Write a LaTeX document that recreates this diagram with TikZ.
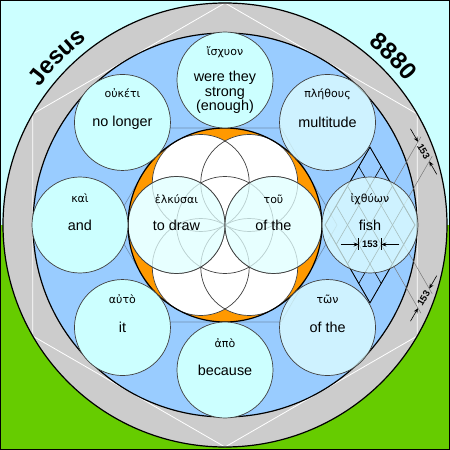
\documentclass[tikz,border=0pt]{standalone}
\usepackage{fontspec}
\setmainfont{Liberation Sans}
\newfontfamily\greekfont{DejaVu Sans}
\usetikzlibrary{calc,arrows.meta,decorations.text}

\definecolor{skycyan}{HTML}{CCFFFF}
\definecolor{palecyan}{HTML}{E0FFFF}
\definecolor{grass}{HTML}{66CC00}
\definecolor{ringgray}{HTML}{CCCCCC}
\definecolor{poolblue}{HTML}{99CCFF}
\definecolor{lune}{HTML}{FF9900}
\definecolor{rim}{HTML}{404040}
\definecolor{slate}{HTML}{7090B0}

\tikzset{
  wordcircle/.style={circle, minimum size=96pt, inner sep=0pt, draw=rim, line width=0.7pt, fill=skycyan},
  clearword/.style={},
  ditheredword/.style={fill=palecyan, fill opacity=0.75, text opacity=1},
  greekword/.style={font=\greekfont\fontsize{11}{12}\selectfont, inner sep=0pt},
  englishword/.style={font=\fontsize{14.4}{14.5}\selectfont, align=center, inner sep=0pt},
  dimlabel/.style={font=\bfseries\fontsize{9.5}{10}\selectfont, inner sep=0.5pt},
  dimarrow/.style={-{Stealth[length=5pt,width=4pt]}, line width=0.6pt},
  extline/.style={draw=rim!70, line width=0.5pt},
  petal/.style={draw=rim, line width=0.7pt},
}

\begin{document}
\begin{tikzpicture}[x=1pt,y=1pt]
        \newcommand{\ringout}{222pt}
        \newcommand{\ringin}{192pt}
        \newcommand{\seedrad}{48.5pt}

        \useasboundingbox (-225,-225) rectangle (225,225);
        \fill [skycyan] (-225,0) rectangle (225,225);
        \fill [grass] (-225,-225) rectangle (225,0);

        \fill [ringgray] (0,0) circle [radius=\ringout];
        \draw [white, line width=0.8pt] (90:222) -- (150:222) -- (210:222) -- (270:222) -- (330:222) -- (30:222) -- cycle;
        \fill [poolblue] (0,0) circle [radius=\ringin];
        \draw [line width=1.2pt] (0,0) circle [radius=\ringout] (0,0) circle [radius=\ringin];

        \draw [slate, line width=0.6pt] (0:112) -- (60:112) -- (120:112) -- (180:112) -- (240:112) -- (300:112) -- cycle;

        \coordinate (fishleft) at (100,0);
        \coordinate (fishtop) at (145,77.94);
        \coordinate (fishright) at (190,0);
        \coordinate (fishbottom) at (145,-77.94);

        \begin{scope}
            \clip (fishleft) -- (fishtop) -- (fishright) -- (fishbottom) -- cycle;
            \foreach \k in {0,...,4} {
                \draw [line width=0.6pt] ({100+11.25*\k},{-19.486*\k}) -- ({145+11.25*\k},{77.94-19.486*\k});
                \draw [line width=0.6pt] ({100+11.25*\k},{19.486*\k}) -- ({145+11.25*\k},{19.486*\k-77.94});
            }
        \end{scope}
        \draw [line width=0.8pt] (fishleft) -- (fishtop) -- (fishright) -- (fishbottom) -- cycle;

        \coordinate (exta) at (167.5,38.97);
        \coordinate (extb) at (178.75,19.49);
        \coordinate (extc) at (167.5,-38.97);
        \coordinate (extd) at (178.75,-19.49);
        \coordinate (dima) at ($(exta)+(60:51)$);
        \coordinate (dimb) at ($(extb)+(60:51)$);
        \coordinate (dimc) at ($(extc)+(-60:51)$);
        \coordinate (dimd) at ($(extd)+(-60:51)$);
        \draw [extline] (exta) -- ($(exta)+(60:57)$);
        \draw [extline] (extb) -- ($(extb)+(60:57)$);
        \draw [extline] (extc) -- ($(extc)+(-60:57)$);
        \draw [extline] (extd) -- ($(extd)+(-60:57)$);

        \fill [lune] (0,0) circle [radius=97pt];
        \foreach \a in {0,60,...,300}
            \fill [white] (\a:48.5) circle [radius=\seedrad];
        \fill [white] (0,0) circle [radius=\seedrad];
        \foreach \a in {0,60,...,300}
            \draw [petal] (\a:48.5) circle [radius=\seedrad];
        \draw [petal] (0,0) circle [radius=\seedrad];
        \node [wordcircle, ditheredword, minimum size=97pt] (todraw) at (-48.5,0) {};
        \node [wordcircle, ditheredword, minimum size=97pt] (ofthemid) at (48.5,0) {};
        \draw [line width=1.2pt] (0,0) circle [radius=97pt];

        \foreach \a/\nm/\sty in {90/strong/clearword, 135/nolonger/clearword, 45/multitude/ditheredword,
                180/and/clearword, 0/fish/ditheredword, 225/it/clearword, 270/because/clearword, 315/ofthe/ditheredword}
            \node [wordcircle, \sty] (\nm) at (\a:145) {};

        \node [greekword] (strongGr) at ([yshift=28pt]strong.center) {ἴσχυον};
        \node [englishword] (strongEn) at ([yshift=-12.5pt]strong.center) {were they\\strong\\(enough)};
        \node [greekword] (nolongerGr) at ([yshift=29pt]nolonger.center) {οὐκέτι};
        \node [englishword] (nolongerEn) at (nolonger.center) {no longer};
        \node [greekword] (multitudeGr) at ([yshift=28pt]multitude.center) {πλήθους};
        \node [englishword] (multitudeEn) at (multitude.center) {multitude};
        \node [greekword] (andGr) at ([yshift=27pt]and.center) {καὶ};
        \node [englishword] (andEn) at (and.center) {and};
        \node [greekword] (fishGr) at ([yshift=26pt]fish.center) {ἰχθύων};
        \node [englishword] (fishEn) at (fish.center) {fish};
        \node [greekword] (itGr) at ([yshift=28pt]it.center) {αὐτὸ};
        \node [englishword] (itEn) at (it.center) {it};
        \node [greekword] (becauseGr) at ([yshift=27pt]because.center) {ἀπὸ};
        \node [englishword] (becauseEn) at (because.center) {because};
        \node [greekword] (oftheGr) at ([yshift=28pt]ofthe.center) {τῶν};
        \node [englishword] (oftheEn) at (ofthe.center) {of the};
        \node [greekword] (todrawGr) at ([yshift=26pt]todraw.center) {ἑλκύσαι};
        \node [englishword] (todrawEn) at (todraw.center) {to draw};
        \node [greekword] (ofthemidGr) at ([yshift=26pt]ofthemid.center) {τοῦ};
        \node [englishword] (ofthemidEn) at (ofthemid.center) {of the};

        \coordinate (cella) at (133.75,-19.49);
        \coordinate (cellb) at (156.25,-19.49);
        \draw [line width=0.6pt] ([yshift=6pt]cella) -- ([yshift=-6pt]cella) ([yshift=6pt]cellb) -- ([yshift=-6pt]cellb);
        \draw [dimarrow] ([xshift=-18pt]cella) -- (cella);
        \draw [dimarrow] ([xshift=18pt]cellb) -- (cellb);
        \node [dimlabel] (fishwidth) at ($(cella)!0.5!(cellb)$) {153};

        \draw [dimarrow] ($(dima)+(120:15)$) -- (dima);
        \draw [dimarrow] ($(dimb)+(-60:15)$) -- (dimb);
        \node [dimlabel, rotate=-60] (edgetop) at ($(dima)!0.5!(dimb)$) {153};
        \draw [dimarrow] ($(dimc)+(240:15)$) -- (dimc);
        \draw [dimarrow] ($(dimd)+(60:15)$) -- (dimd);
        \node [dimlabel, rotate=60] (edgebottom) at ($(dimc)!0.5!(dimd)$) {153};

        \path [decorate, decoration={text along path, text align=center,
            text={|\fontsize{24}{24}\selectfont\bfseries|Jesus}}]
            (180:231) arc [start angle=180, end angle=90, radius=231pt];
        \path [decorate, decoration={text along path, text align=center,
            text={|\fontsize{24}{24}\selectfont\bfseries|8880}}]
            (90:231) arc [start angle=90, end angle=0, radius=231pt];

        \draw [line width=1pt] (-224.5,-224.5) rectangle (224.5,224.5);
    \end{tikzpicture}
\end{document}
